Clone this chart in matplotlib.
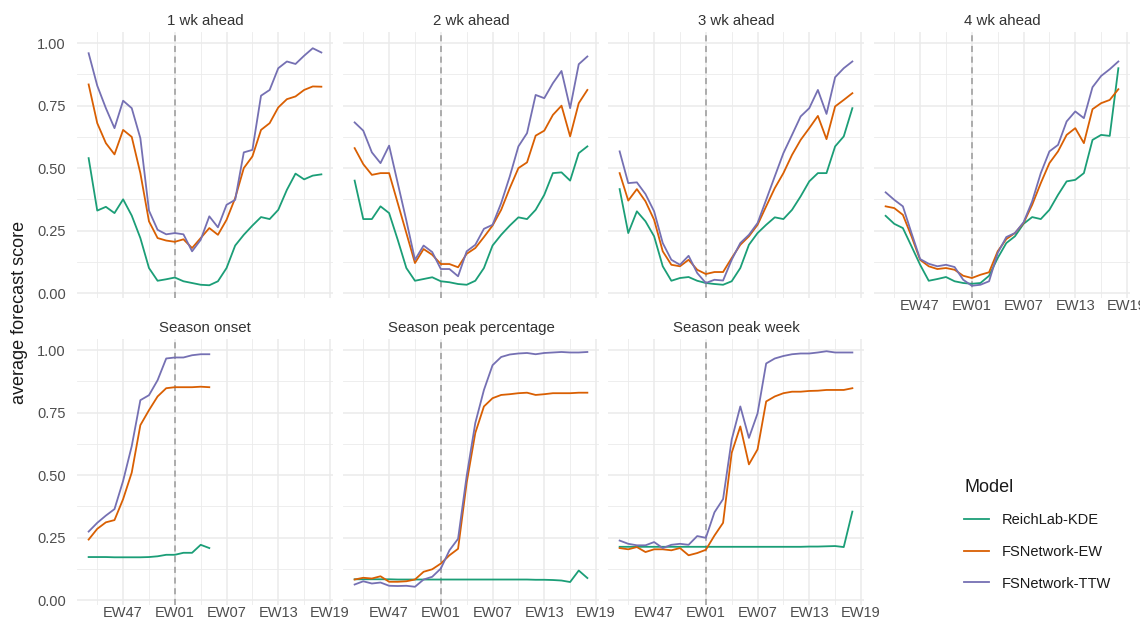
#!/usr/bin/env python
# -*- coding: utf-8 -*-

import numpy as np
import matplotlib as mpl
mpl.use('Agg')
import matplotlib.pyplot as plt
from matplotlib.lines import Line2D

plt.rcParams['font.family'] = ['Liberation Sans', 'DejaVu Sans']

# epiweeks of the season, EW43 .. EW18
weeks = list(range(43, 53)) + list(range(1, 19))
tick_weeks = ['EW47', 'EW01', 'EW07', 'EW13', 'EW19']

models = ['ReichLab-KDE', 'FSNetwork-EW', 'FSNetwork-TTW']
colors = ['#1B9E77', '#D95F02', '#7570B3']

wk1_kde = [0.54, 0.33, 0.345, 0.32, 0.375, 0.31, 0.22, 0.10, 0.049, 0.055, 0.062, 0.047, 0.04, 0.033,
           0.031, 0.047, 0.10, 0.19, 0.233, 0.27, 0.304, 0.296, 0.333, 0.413, 0.478, 0.455, 0.47, 0.475]
wk1_ew = [0.835, 0.68, 0.60, 0.555, 0.653, 0.625, 0.48, 0.287, 0.22, 0.21, 0.205, 0.215, 0.18, 0.22,
          0.26, 0.233, 0.293, 0.38, 0.50, 0.547, 0.653, 0.68, 0.743, 0.776, 0.787, 0.813, 0.827, 0.826]
wk1_ttw = [0.96, 0.83, 0.74, 0.66, 0.77, 0.74, 0.62, 0.33, 0.253, 0.235, 0.24, 0.235, 0.167, 0.213,
           0.307, 0.263, 0.353, 0.373, 0.563, 0.573, 0.79, 0.813, 0.90, 0.927, 0.917, 0.95, 0.98, 0.963]

wk2_kde = [0.45, 0.296, 0.296, 0.347, 0.32, 0.213, 0.10, 0.049, 0.056, 0.063, 0.047, 0.043, 0.036, 0.033,
           0.049, 0.10, 0.19, 0.233, 0.27, 0.303, 0.296, 0.333, 0.393, 0.48, 0.483, 0.45, 0.56, 0.587]
wk2_ew = [0.58, 0.516, 0.473, 0.48, 0.48, 0.36, 0.24, 0.12, 0.176, 0.153, 0.116, 0.116, 0.103, 0.157,
          0.18, 0.224, 0.27, 0.333, 0.42, 0.50, 0.523, 0.63, 0.65, 0.713, 0.75, 0.627, 0.76, 0.813]
wk2_ttw = [0.683, 0.65, 0.563, 0.52, 0.59, 0.44, 0.29, 0.133, 0.19, 0.164, 0.096, 0.096, 0.067, 0.167,
           0.193, 0.257, 0.273, 0.36, 0.467, 0.587, 0.64, 0.793, 0.78, 0.84, 0.889, 0.74, 0.916, 0.947]

wk3_kde = [0.416, 0.24, 0.327, 0.287, 0.227, 0.107, 0.049, 0.06, 0.064, 0.049, 0.04, 0.036, 0.033, 0.047,
           0.10, 0.193, 0.24, 0.273, 0.303, 0.296, 0.333, 0.387, 0.447, 0.48, 0.48, 0.587, 0.627, 0.74]
wk3_ew = [0.48, 0.37, 0.416, 0.367, 0.293, 0.167, 0.113, 0.107, 0.133, 0.093, 0.076, 0.084, 0.084, 0.14,
          0.193, 0.227, 0.273, 0.347, 0.42, 0.48, 0.553, 0.613, 0.66, 0.709, 0.616, 0.747, 0.773, 0.80]
wk3_ttw = [0.567, 0.44, 0.443, 0.396, 0.327, 0.20, 0.133, 0.113, 0.149, 0.08, 0.04, 0.053, 0.05, 0.133,
           0.20, 0.233, 0.28, 0.373, 0.467, 0.56, 0.633, 0.707, 0.74, 0.813, 0.717, 0.864, 0.90, 0.927]

wk4_kde = [0.309, 0.277, 0.26, 0.187, 0.113, 0.049, 0.056, 0.064, 0.047, 0.04, 0.037, 0.04, 0.069, 0.14,
           0.20, 0.227, 0.277, 0.304, 0.296, 0.333, 0.393, 0.447, 0.453, 0.48, 0.613, 0.633, 0.629, 0.90]
wk4_ew = [0.347, 0.34, 0.313, 0.227, 0.133, 0.107, 0.096, 0.10, 0.093, 0.069, 0.06, 0.073, 0.083, 0.167,
          0.216, 0.24, 0.28, 0.353, 0.44, 0.52, 0.567, 0.633, 0.66, 0.60, 0.736, 0.76, 0.773, 0.816]
wk4_ttw = [0.403, 0.373, 0.347, 0.24, 0.136, 0.117, 0.107, 0.113, 0.104, 0.053, 0.029, 0.033, 0.047, 0.16,
           0.224, 0.24, 0.283, 0.367, 0.48, 0.567, 0.593, 0.687, 0.727, 0.70, 0.824, 0.869, 0.896, 0.927]

# onset is only scored up to EW05
onset_kde = [0.172, 0.172, 0.172, 0.171, 0.171, 0.171, 0.171, 0.172, 0.175, 0.181, 0.181, 0.189, 0.189,
             0.221, 0.208]
onset_ew = [0.242, 0.285, 0.311, 0.32, 0.404, 0.51, 0.70, 0.76, 0.815, 0.848, 0.852, 0.852, 0.852,
            0.854, 0.852]
onset_ttw = [0.274, 0.309, 0.338, 0.364, 0.477, 0.616, 0.80, 0.82, 0.88, 0.967, 0.971, 0.971, 0.98,
             0.984, 0.984]

pkpct_kde = [0.083, 0.083, 0.083, 0.083, 0.083, 0.082, 0.082, 0.082, 0.082, 0.082, 0.082, 0.082, 0.082,
             0.082, 0.082, 0.082, 0.082, 0.082, 0.082, 0.082, 0.082, 0.081, 0.081, 0.08, 0.078, 0.072,
             0.118, 0.088]
pkpct_ew = [0.082, 0.089, 0.086, 0.095, 0.073, 0.073, 0.075, 0.082, 0.113, 0.123, 0.146, 0.179, 0.205,
            0.47, 0.669, 0.775, 0.808, 0.821, 0.824, 0.828, 0.83, 0.821, 0.824, 0.828, 0.828, 0.828,
            0.83, 0.83]
pkpct_ttw = [0.062, 0.075, 0.066, 0.07, 0.057, 0.056, 0.057, 0.053, 0.082, 0.093, 0.126, 0.199, 0.245,
             0.497, 0.709, 0.841, 0.94, 0.973, 0.983, 0.987, 0.989, 0.984, 0.989, 0.991, 0.993, 0.991,
             0.991, 0.993]

pkwk_kde = [0.213, 0.213, 0.213, 0.213, 0.213, 0.213, 0.213, 0.213, 0.213, 0.213, 0.213, 0.213, 0.213,
            0.213, 0.213, 0.213, 0.213, 0.213, 0.213, 0.213, 0.213, 0.213, 0.214, 0.214, 0.215, 0.216,
            0.212, 0.354]
pkwk_ew = [0.208, 0.203, 0.212, 0.192, 0.203, 0.203, 0.199, 0.208, 0.179, 0.188, 0.201, 0.258, 0.309,
           0.589, 0.695, 0.543, 0.603, 0.795, 0.815, 0.828, 0.834, 0.834, 0.837, 0.838, 0.841, 0.841,
           0.841, 0.848]
pkwk_ttw = [0.238, 0.225, 0.219, 0.219, 0.232, 0.208, 0.221, 0.225, 0.221, 0.256, 0.249, 0.351, 0.404,
            0.642, 0.775, 0.649, 0.747, 0.947, 0.967, 0.977, 0.984, 0.987, 0.987, 0.991, 0.996, 0.991,
            0.991, 0.991]

panels = [
    ('1 wk ahead', [wk1_kde, wk1_ew, wk1_ttw]),
    ('2 wk ahead', [wk2_kde, wk2_ew, wk2_ttw]),
    ('3 wk ahead', [wk3_kde, wk3_ew, wk3_ttw]),
    ('4 wk ahead', [wk4_kde, wk4_ew, wk4_ttw]),
    ('Season onset', [onset_kde, onset_ew, onset_ttw]),
    ('Season peak percentage', [pkpct_kde, pkpct_ew, pkpct_ttw]),
    ('Season peak week', [pkwk_kde, pkwk_ew, pkwk_ttw]),
]

# season index: position of each epiweek in the season
def season_index(w):
    return w - 43 if w >= 43 else w + 9

x_all = np.array([season_index(w) for w in weeks])
tick_pos = [season_index(int(t[2:])) for t in tick_weeks]
minor_pos = [p - 3 for p in tick_pos]
ew01 = season_index(1)

W, H = 1140, 629
fig = plt.figure(figsize=(W / 100, H / 100), dpi=100)

col_left = [77, 343, 608, 874]
row_top = [32, 339]
pw, ph = 256, 266

text_grey = '#4D4D4D'
grid_col = '#EBEBEB'

axes = []
for i, (title, series) in enumerate(panels):
    r, c = divmod(i, 4)
    ax = fig.add_axes([col_left[c] / W, (H - row_top[r] - ph) / H, pw / W, ph / H])
    axes.append(ax)

    ax.set_xlim(-1.35, 28.35)
    ax.set_ylim(-0.02, 1.045)
    ax.set_xticks(tick_pos)
    ax.set_xticks(minor_pos, minor=True)
    ax.set_yticks([0, 0.25, 0.5, 0.75, 1.0])
    ax.set_yticks([0.125, 0.375, 0.625, 0.875], minor=True)
    ax.grid(which='major', color=grid_col, linewidth=1.1)
    ax.grid(which='minor', color=grid_col, linewidth=0.6)
    ax.set_axisbelow(True)
    for s in ax.spines.values():
        s.set_visible(False)
    ax.tick_params(which='both', length=0, colors=text_grey, labelsize=10.5)
    ax.tick_params(axis='x', pad=1)
    ax.tick_params(axis='y', pad=8)

    show_x = (r == 1) or (c == 3)
    if show_x:
        ax.set_xticklabels(tick_weeks)
    else:
        ax.set_xticklabels([])
    if c == 0:
        ax.set_yticklabels(['0.00', '0.25', '0.50', '0.75', '1.00'])
    else:
        ax.set_yticklabels([])

    ax.axvline(ew01, color='#9A9A9A', linestyle=(0, (4, 3)), linewidth=1.1, zorder=1)

    for vals, col in zip(series, colors):
        ax.plot(x_all[:len(vals)], vals, color=col, linewidth=1.3, zorder=3)

    ax.set_title(title, fontsize=10.8, color='#333333', pad=5)

fig.text(20 / W, 1 - 312 / H, 'average forecast score', rotation=90, ha='center', va='center',
         fontsize=13, color='#1A1A1A')

handles = [Line2D([], [], color=col, linewidth=1.3) for col in colors]
leg = fig.legend(handles, models, title='Model', loc='upper left',
                 bbox_to_anchor=(964 / W, 1 - 479 / H), frameon=False,
                 fontsize=10.5, title_fontsize=13, handlelength=1.7, handletextpad=0.9,
                 labelspacing=1.2, borderpad=0, borderaxespad=0, alignment='left')
for t in leg.get_texts():
    t.set_color('#1A1A1A')
leg.get_title().set_color('#1A1A1A')

plt.savefig('out.png', dpi=100)
